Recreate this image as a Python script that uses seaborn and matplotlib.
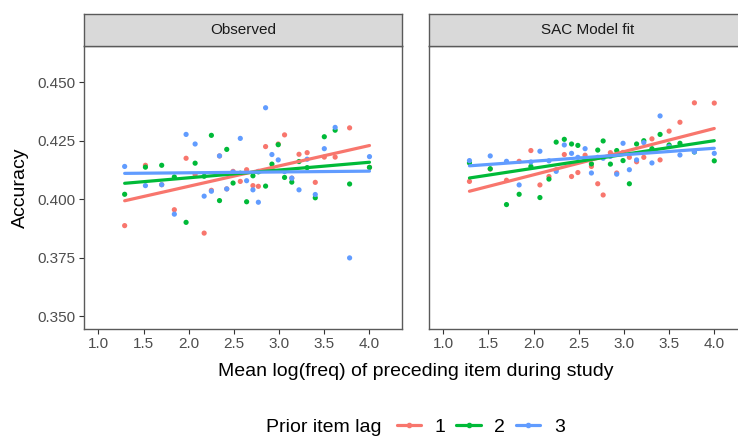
import numpy as np
import pandas as pd
import matplotlib
matplotlib.use("Agg")
import matplotlib.pyplot as plt
import seaborn as sns
from matplotlib.lines import Line2D

sns.set_theme(style="white")
plt.rcParams['font.family'] = ['Liberation Sans', 'DejaVu Sans']

# ---------------- data ----------------
panels = ["Observed", "SAC Model fit"]
lags = ["1", "2", "3"]
colors = ["#F8766D", "#00BA38", "#619CFF"]

x_grid = [1.29, 1.52, 1.70, 1.84, 1.97, 2.07, 2.17, 2.25, 2.34, 2.42, 2.49, 2.57, 2.64, 2.71,
          2.77, 2.85, 2.92, 2.99, 3.06, 3.14, 3.22, 3.31, 3.40, 3.50, 3.62, 3.78, 4.00]

obs_lag1 = [0.3887, 0.4145, 0.4062, 0.3955, 0.4175, 0.4105, 0.3855, 0.4038, 0.4185, 0.4044,
            0.4119, 0.4076, 0.4126, 0.4058, 0.4055, 0.4225, 0.4131, 0.4236, 0.4275, 0.4090,
            0.4192, 0.4199, 0.4072, 0.4180, 0.4180, 0.4305, 0.4136]
obs_lag2 = [0.4021, 0.4137, 0.4145, 0.4095, 0.3901, 0.4154, 0.4098, 0.4273, 0.3994, 0.4213,
            0.4069, 0.4111, 0.3989, 0.4100, 0.4117, 0.4056, 0.4150, 0.4233, 0.4093, 0.4073,
            0.4161, 0.4135, 0.4006, 0.4267, 0.4295, 0.4065, 0.4136]
obs_lag3_x = [1.29, 1.52, 1.70, 1.84, 1.97, 2.07, 2.17, 2.25, 2.34, 2.42, 2.49, 2.57, 2.64, 2.71,
              2.77, 2.77, 2.85, 2.92, 2.99, 3.06, 3.14, 3.22, 3.31, 3.40, 3.50, 3.62, 3.78, 4.00]
obs_lag3 = [0.4140, 0.4058, 0.4062, 0.3936, 0.4277, 0.4236, 0.4013, 0.4034, 0.4185, 0.4044,
            0.4116, 0.4260, 0.4079, 0.4040, 0.4119, 0.3987, 0.4391, 0.4191, 0.4168, 0.4118,
            0.4090, 0.4040, 0.4171, 0.4020, 0.4216, 0.4307, 0.3749, 0.4182]

sac_lag1 = [0.4076, 0.4129, 0.4081, 0.4162, 0.4208, 0.4061, 0.4097, 0.4126, 0.4191, 0.4097,
            0.4114, 0.4188, 0.4140, 0.4066, 0.4018, 0.4199, 0.4112, 0.4200, 0.4179, 0.4160,
            0.4179, 0.4258, 0.4168, 0.4291, 0.4329, 0.4412, 0.4411]
sac_lag2 = [0.4155, 0.4130, 0.3977, 0.4021, 0.4140, 0.4007, 0.4086, 0.4244, 0.4256, 0.4236,
            0.4230, 0.4170, 0.4151, 0.4210, 0.4249, 0.4150, 0.4208, 0.4165, 0.4066, 0.4236,
            0.4250, 0.4216, 0.4277, 0.4232, 0.4239, 0.4202, 0.4164]
sac_lag3 = [0.4165, 0.4185, 0.4162, 0.4061, 0.4159, 0.4205, 0.4164, 0.4119, 0.4232, 0.4196,
            0.4179, 0.4216, 0.4112, 0.4179, 0.4175, 0.4183, 0.4107, 0.4239, 0.4126, 0.4168,
            0.4242, 0.4155, 0.4356, 0.4225, 0.4189, 0.4202, 0.4196]

x_ticks = [1.0, 1.5, 2.0, 2.5, 3.0, 3.5, 4.0]
y_ticks = [0.350, 0.375, 0.400, 0.425, 0.450]

series = [
    ("Observed", "1", x_grid, obs_lag1),
    ("Observed", "2", x_grid, obs_lag2),
    ("Observed", "3", obs_lag3_x, obs_lag3),
    ("SAC Model fit", "1", x_grid, sac_lag1),
    ("SAC Model fit", "2", x_grid, sac_lag2),
    ("SAC Model fit", "3", x_grid, sac_lag3),
]
frames = [pd.DataFrame({"panel": p, "lag": l, "freq": xs, "acc": ys}) for p, l, xs, ys in series]
df = pd.concat(frames, ignore_index=True)

# ---------------- figure ----------------
W, H = 738, 436
fig = plt.figure(figsize=(W / 100, H / 100), dpi=100)

def rect(l, t, w, h):
    return [l / W, 1 - (t + h) / H, w / W, h / H]

panel_left = [84, 428.8]
panel_top, panel_w, panel_h = 46, 318, 283
strip_top, strip_h = 14, 32
border_col = "#5a5a5a"

for i, name in enumerate(panels):
    ax = fig.add_axes(rect(panel_left[i], panel_top, panel_w, panel_h))
    sub = df[df.panel == name]
    sns.scatterplot(data=sub, x="freq", y="acc", hue="lag", hue_order=lags, palette=colors,
                    s=14, linewidth=0, legend=False, ax=ax, zorder=2)
    for lag, c in zip(lags, colors):
        sns.regplot(data=sub[sub.lag == lag], x="freq", y="acc", scatter=False, ci=None,
                    truncate=True, color=c, line_kws=dict(lw=2.3, zorder=3), ax=ax)
    ax.set_xlim(0.84, 4.36)
    ax.set_ylim(0.3445, 0.4655)
    ax.set_xticks(x_ticks)
    ax.set_xticklabels([f"{v:.1f}" for v in x_ticks])
    ax.set_yticks(y_ticks)
    if i == 0:
        ax.set_yticklabels([f"{v:.3f}" for v in y_ticks])
        ax.tick_params(axis="y", left=True, length=3.5, width=0.8, color="#333333",
                       labelsize=11, labelcolor="#4D4D4D", pad=2.5)
    else:
        ax.tick_params(axis="y", left=False, labelleft=False)
    ax.tick_params(axis="x", bottom=True, length=3.5, width=0.8, color="#333333",
                   labelsize=11, labelcolor="#4D4D4D", pad=2.5)
    ax.set_xlabel("")
    ax.set_ylabel("")
    ax.grid(False)
    for sp in ax.spines.values():
        sp.set_visible(True)
        sp.set_color(border_col)
        sp.set_linewidth(1.0)

    sax = fig.add_axes(rect(panel_left[i], strip_top, panel_w, strip_h))
    sax.set_facecolor("#D9D9D9")
    sax.set_xticks([])
    sax.set_yticks([])
    for sp in sax.spines.values():
        sp.set_visible(True)
        sp.set_color(border_col)
        sp.set_linewidth(1.0)
    sax.text(0.5, 0.5, name, ha="center", va="center", fontsize=11, color="#1A1A1A",
             transform=sax.transAxes)

fig.text(415.5 / W, 1 - 371 / H, "Mean log(freq) of preceding item during study",
         ha="center", va="center", fontsize=14, color="black")
fig.text(20 / W, 1 - 187.5 / H, "Accuracy", ha="center", va="center", rotation=90,
         fontsize=14, color="black")

fig.text(266 / W, 1 - 427 / H, "Prior item lag", ha="left", va="center", fontsize=14,
         color="black")
handles = [Line2D([0], [0], color=c, lw=2.3, marker="o", markersize=3) for c in colors]
fig.legend(handles, lags, loc="center left", bbox_to_anchor=(397 / W, 1 - 427 / H),
           ncol=3, frameon=False, fontsize=14, handlelength=1.25, handletextpad=0.7,
           columnspacing=0.55, borderpad=0, borderaxespad=0, labelcolor="black")

fig.savefig("out.png", dpi=100)
